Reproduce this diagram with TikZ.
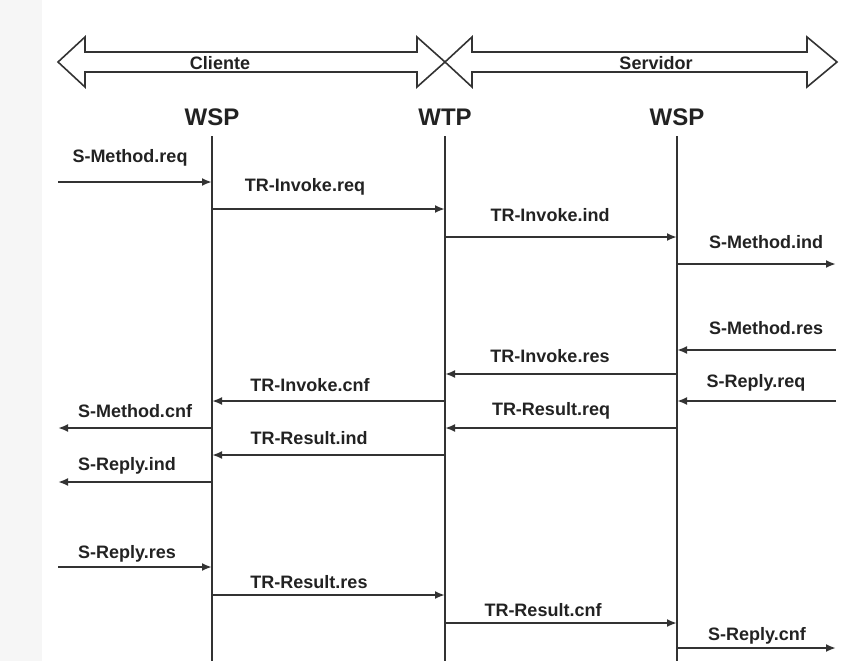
\documentclass[tikz,border=0pt]{standalone}
\usepackage{fontspec}
\setmainfont{Liberation Sans}
\usetikzlibrary{arrows.meta}
\definecolor{ink}{HTML}{222222}
\definecolor{lineink}{HTML}{333333}
\tikzset{
  head/.style={font=\fontsize{24}{27}\selectfont\bfseries, text=ink, inner sep=0pt},
  lbl/.style={font=\fontsize{18}{21}\selectfont\bfseries, text=ink, inner sep=0pt},
  life/.style={draw=lineink, line width=1.7pt},
  msg/.style={draw=lineink, line width=2.1pt, -{Latex[length=10pt,width=8pt]}},
  band/.style={draw=lineink, line width=1.6pt, fill=white, line join=miter},
}
\begin{document}
\begin{tikzpicture}[x=1pt,y=-1pt]
\useasboundingbox (0,0) rectangle (842,661);
\fill[gray!7] (0,0) rectangle (42,661);
% big band arrows
\draw[band] (58,62) -- (85,37) -- (85,52) -- (417,52) -- (417,37) -- (445,62)
  -- (417,87) -- (417,72) -- (85,72) -- (85,87) -- cycle;
\draw[band] (445,62) -- (472,37) -- (472,52) -- (807,52) -- (807,37) -- (837,62)
  -- (807,87) -- (807,72) -- (472,72) -- (472,87) -- cycle;
\node[lbl, anchor=base] (cli) at (220,70) {Cliente};
\node[lbl, anchor=base] (srv) at (656,70) {Servidor};
% headings
\node[head] (wa) at (212,117) {WSP};
\node[head] (wt) at (445,117) {WTP};
\node[head] (wb) at (677,117) {WSP};
% lifelines
\coordinate (la) at (212,136); \coordinate (lae) at (212,661);
\coordinate (lt) at (445,136); \coordinate (lte) at (445,661);
\coordinate (lb) at (677,136); \coordinate (lbe) at (677,661);
\draw[life] (la) -- (lae);
\draw[life] (lt) -- (lte);
\draw[life] (lb) -- (lbe);
% external ends
\coordinate (L) at (58,0);
\coordinate (R) at (836,0);
% messages
\draw[msg] (L |- 0,182) -- (la |- 0,182);
\node[lbl] (m1) at (130,158) {S-Method.req};
\draw[msg] (la |- 0,209) -- (lt |- 0,209);
\node[lbl] (m2) at (305,187) {TR-Invoke.req};
\draw[msg] (lt |- 0,237) -- (lb |- 0,237);
\node[lbl] (m3) at (550,215) {TR-Invoke.ind};
\draw[msg] (lb |- 0,264) -- (R |- 0,264);
\node[lbl] (m4) at (766,242) {S-Method.ind};
\draw[msg] (R |- 0,350) -- (lb |- 0,350);
\node[lbl] (m5) at (766,328) {S-Method.res};
\draw[msg] (lb |- 0,374) -- (lt |- 0,374);
\node[lbl] (m6) at (550,356) {TR-Invoke.res};
\draw[msg] (R |- 0,401) -- (lb |- 0,401);
\node[lbl] (m7) at (756,383) {S-Reply.req};
\draw[msg] (lt |- 0,401) -- (la |- 0,401);
\node[lbl] (m8) at (310,385) {TR-Invoke.cnf};
\draw[msg] (la |- 0,428) -- (L |- 0,428);
\node[lbl] (m9) at (135,411) {S-Method.cnf};
\draw[msg] (lb |- 0,428) -- (lt |- 0,428);
\node[lbl] (m10) at (551,411) {TR-Result.req};
\draw[msg] (lt |- 0,455) -- (la |- 0,455);
\node[lbl] (m11) at (309,438) {TR-Result.ind};
\draw[msg] (la |- 0,482) -- (L |- 0,482);
\node[lbl] (m12) at (127,466) {S-Reply.ind};
\draw[msg] (L |- 0,567) -- (la |- 0,567);
\node[lbl] (m13) at (127,554) {S-Reply.res};
\draw[msg] (la |- 0,595) -- (lt |- 0,595);
\node[lbl] (m14) at (309,582) {TR-Result.res};
\draw[msg] (lt |- 0,623) -- (lb |- 0,623);
\node[lbl] (m15) at (543,610) {TR-Result.cnf};
\draw[msg] (lb |- 0,648) -- (R |- 0,648);
\node[lbl] (m16) at (757,636) {S-Reply.cnf};
\end{tikzpicture}
\end{document}
